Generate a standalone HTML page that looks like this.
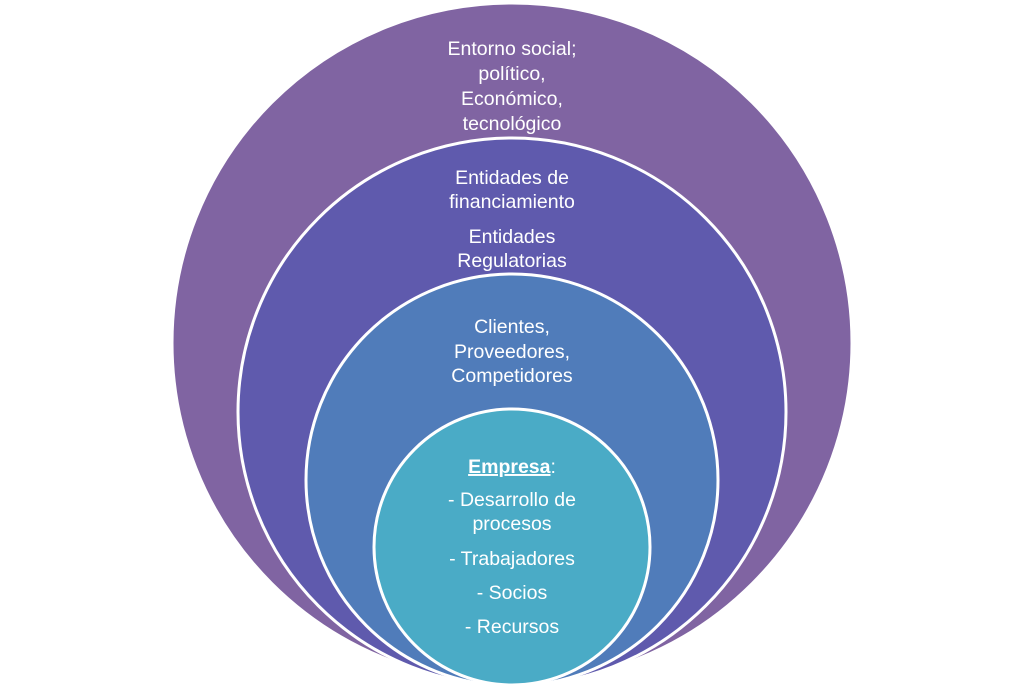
<!DOCTYPE html>
<html><head><meta charset="utf-8"><style>
html,body{margin:0;padding:0;background:#fff;}
svg text{font-family:"Liberation Sans",sans-serif;font-size:19.5px;fill:#fff;text-anchor:middle;}
</style></head><body>
<svg width="1024" height="685" viewBox="0 0 1024 685" xmlns="http://www.w3.org/2000/svg">
<circle cx="512" cy="343" r="340" fill="#8064A2" stroke="#fff" stroke-width="3"/>
<circle cx="512" cy="412" r="274" fill="#5F5AAD" stroke="#fff" stroke-width="3"/>
<circle cx="512" cy="480" r="206" fill="#507CBA" stroke="#fff" stroke-width="3"/>
<circle cx="512" cy="547" r="138" fill="#4AABC6" stroke="#fff" stroke-width="3"/>
<text x="512" y="55">Entorno social;</text>
<text x="512" y="80">político,</text>
<text x="512" y="105">Económico,</text>
<text x="512" y="130">tecnológico</text>
<text x="512" y="184">Entidades de</text>
<text x="512" y="208">financiamiento</text>
<text x="512" y="243">Entidades</text>
<text x="512" y="267">Regulatorias</text>
<text x="512" y="333">Clientes,</text>
<text x="512" y="358">Proveedores,</text>
<text x="512" y="382">Competidores</text>
<text x="512" y="473"><tspan font-weight="bold" text-decoration="underline">Empresa</tspan>:</text>
<text x="512" y="506">- Desarrollo de</text>
<text x="512" y="530">procesos</text>
<text x="512" y="565">- Trabajadores</text>
<text x="512" y="599">- Socios</text>
<text x="512" y="633">- Recursos</text>
</svg>
</body></html>
